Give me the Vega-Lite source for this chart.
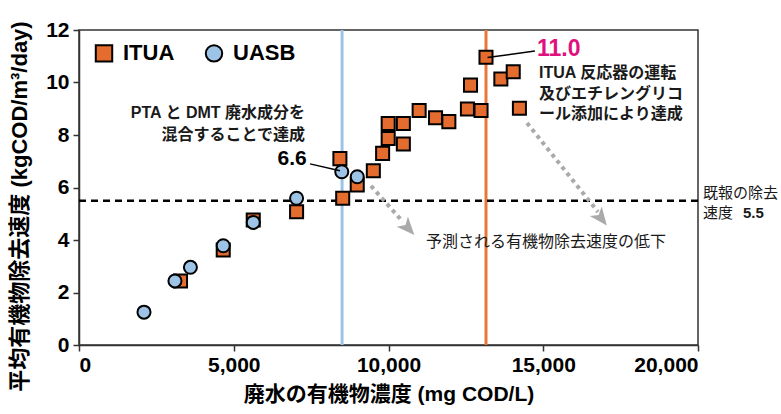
{
  "$schema": "https://vega.github.io/schema/vega-lite/v6.json",
  "autosize": "none",
  "width": 619,
  "height": 315,
  "padding": {"left": 79, "top": 30, "right": 83, "bottom": 69},
  "config": {
    "font": "Liberation Sans, Noto Sans CJK JP",
    "view": {"stroke": "#333333", "strokeWidth": 1.5},
    "axis": {
      "grid": false,
      "domainColor": "#333333",
      "domainWidth": 1.5,
      "tickColor": "#333333",
      "tickWidth": 1.5,
      "tickSize": 6,
      "labelColor": "#000000",
      "labelFont": "Liberation Sans, Noto Sans CJK JP",
      "labelFontWeight": "bold",
      "labelFontSize": 21,
      "titleColor": "#000000",
      "titleFont": "Liberation Sans, Noto Sans CJK JP",
      "titleFontWeight": "bold",
      "titleFontSize": 21
    }
  },
  "datasets": {
    "points": [
      {"series": "ITUA", "cod": 3280, "rate": 2.44},
      {"series": "ITUA", "cod": 4660, "rate": 3.62},
      {"series": "ITUA", "cod": 5630, "rate": 4.76},
      {"series": "ITUA", "cod": 7030, "rate": 5.08},
      {"series": "ITUA", "cod": 8430, "rate": 7.1},
      {"series": "ITUA", "cod": 8520, "rate": 5.59},
      {"series": "ITUA", "cod": 8990, "rate": 6.1},
      {"series": "ITUA", "cod": 9510, "rate": 6.64},
      {"series": "ITUA", "cod": 9810, "rate": 7.3},
      {"series": "ITUA", "cod": 9990, "rate": 7.87},
      {"series": "ITUA", "cod": 9990, "rate": 8.44},
      {"series": "ITUA", "cod": 10480, "rate": 8.44},
      {"series": "ITUA", "cod": 10480, "rate": 7.66},
      {"series": "ITUA", "cod": 10990, "rate": 8.93},
      {"series": "ITUA", "cod": 11520, "rate": 8.66},
      {"series": "ITUA", "cod": 11950, "rate": 8.51},
      {"series": "ITUA", "cod": 12550, "rate": 8.99},
      {"series": "ITUA", "cod": 12650, "rate": 9.9},
      {"series": "ITUA", "cod": 12990, "rate": 8.93},
      {"series": "ITUA", "cod": 13150, "rate": 10.96},
      {"series": "ITUA", "cod": 13630, "rate": 10.13},
      {"series": "ITUA", "cod": 14030, "rate": 10.41},
      {"series": "ITUA", "cod": 14230, "rate": 9.02},
      {"series": "UASB", "cod": 2100, "rate": 1.25},
      {"series": "UASB", "cod": 3100, "rate": 2.44},
      {"series": "UASB", "cod": 3600, "rate": 2.96},
      {"series": "UASB", "cod": 4660, "rate": 3.78},
      {"series": "UASB", "cod": 5630, "rate": 4.67},
      {"series": "UASB", "cod": 7030, "rate": 5.59},
      {"series": "UASB", "cod": 8490, "rate": 6.6},
      {"series": "UASB", "cod": 8990, "rate": 6.41}
    ],
    "vlines": [
      {"cod": 8500, "color": "blue"},
      {"cod": 13150, "color": "orange"}
    ],
    "arrows": [
      {"x": 9434, "y": 6.06, "x2": 10468, "y2": 4.69},
      {"x": 14475, "y": 8.46, "x2": 16769, "y2": 5.07}
    ],
    "heads": [
      {"x": 10630, "y": 4.46, "angle": 138},
      {"x": 16866, "y": 4.84, "angle": 142}
    ],
    "leaders": [
      {"x": 7464, "y": 6.9, "x2": 8433, "y2": 6.64},
      {"x": 13200, "y": 10.95, "x2": 14730, "y2": 11.2}
    ],
    "rightText": [
      {"x": 7302, "y": 8.83, "text": "PTA と DMT 廃水成分を"},
      {"x": 7302, "y": 8.0, "text": "混合することで達成"}
    ],
    "leftBold": [
      {"x": 14862, "y": 10.35, "text": "ITUA 反応器の運転"},
      {"x": 14862, "y": 9.56, "text": "及びエチレングリコ"},
      {"x": 14862, "y": 8.79, "text": "ール添加により達成"}
    ],
    "leftNormal": [
      {"x": 11212, "y": 3.92, "text": "予測される有機物除去速度の低下"}
    ],
    "sideNormal": [
      {"x": 20162, "y": 5.8, "text": "既報の除去"},
      {"x": 20162, "y": 5.04, "text": "速度"}
    ],
    "sideBold": [
      {"x": 21454, "y": 5.04, "text": "5.5"}
    ],
    "big": [
      {"x": 7357, "y": 7.07, "text": "6.6", "kind": "a"},
      {"x": 14798, "y": 11.28, "text": "11.0", "kind": "b"}
    ]
  },
  "layer": [
    {
      "data": {"name": "vlines"},
      "mark": {"type": "rule", "strokeWidth": 3},
      "encoding": {
        "x": {"field": "cod", "type": "quantitative", "title": "廃水の有機物濃度 (mg COD/L)",
          "scale": {"domain": [0, 20000], "nice": false},
          "axis": {"values": [0, 5000, 10000, 15000, 20000], "labelExpr": "format(datum.value, ',')", "titlePadding": 8, "labelPadding": 3}},
        "color": {"field": "color", "type": "nominal", "scale": {"domain": ["blue", "orange"], "range": ["#9dc3e6", "#e8773a"]}, "legend": null}
      }
    },
    {
      "data": {"values": [{"rate": 5.5}]},
      "mark": {"type": "rule", "color": "#000000", "strokeWidth": 2.5, "strokeDash": [7, 5]},
      "encoding": {
        "y": {"field": "rate", "type": "quantitative", "title": "平均有機物除去速度 (kgCOD/m³/day)",
          "scale": {"domain": [0, 12], "nice": false},
          "axis": {"values": [0, 2, 4, 6, 8, 10, 12], "titlePadding": 14, "labelPadding": 4, "titleFontSize": 22, "titleY": 176}}
      }
    },
    {
      "data": {"name": "arrows"},
      "mark": {"type": "rule", "color": "#aaaaaa", "strokeWidth": 4, "strokeDash": [4, 4]},
      "encoding": {
        "x": {"field": "x", "type": "quantitative"},
        "y": {"field": "y", "type": "quantitative"},
        "x2": {"field": "x2"},
        "y2": {"field": "y2"}
      }
    },
    {
      "data": {"name": "heads"},
      "mark": {"type": "point", "shape": "M0,-1L0.8,0.9L0,0.4L-0.8,0.9Z", "filled": true, "color": "#aaaaaa", "opacity": 1, "size": 360},
      "encoding": {
        "x": {"field": "x", "type": "quantitative"},
        "y": {"field": "y", "type": "quantitative"},
        "angle": {"field": "angle", "type": "quantitative", "scale": null}
      }
    },
    {
      "data": {"name": "points"},
      "mark": {"type": "point", "filled": true, "stroke": "#000000", "strokeWidth": 2, "opacity": 1, "size": 170},
      "encoding": {
        "x": {"field": "cod", "type": "quantitative"},
        "y": {"field": "rate", "type": "quantitative"},
        "fill": {"field": "series", "type": "nominal",
          "scale": {"domain": ["ITUA", "UASB"], "range": ["#e46c2e", "#9dc3e6"]},
          "legend": {"title": null, "orient": "none", "legendX": 14, "legendY": 12, "direction": "horizontal",
            "labelFontSize": 22, "labelFontWeight": "bold", "labelColor": "#000000", "labelFont": "Liberation Sans",
            "symbolSize": 270, "symbolStrokeColor": "#000000", "symbolStrokeWidth": 2, "symbolOpacity": 1,
            "columnPadding": 26, "labelOffset": 8, "padding": 0}},
        "shape": {"field": "series", "type": "nominal",
          "scale": {"domain": ["ITUA", "UASB"], "range": ["square", "circle"]}}
      }
    },
    {
      "data": {"name": "leaders"},
      "mark": {"type": "rule", "color": "#000000", "strokeWidth": 1.5},
      "encoding": {
        "x": {"field": "x", "type": "quantitative"},
        "y": {"field": "y", "type": "quantitative"},
        "x2": {"field": "x2"},
        "y2": {"field": "y2"}
      }
    },
    {
      "data": {"name": "rightText"},
      "mark": {"type": "text", "align": "right", "baseline": "middle", "fontSize": 16, "fontWeight": "bold", "color": "#1a1a1a"},
      "encoding": {
        "x": {"field": "x", "type": "quantitative"},
        "y": {"field": "y", "type": "quantitative"},
        "text": {"field": "text"}
      }
    },
    {
      "data": {"name": "leftBold"},
      "mark": {"type": "text", "align": "left", "baseline": "middle", "fontSize": 16, "fontWeight": "bold", "color": "#1a1a1a"},
      "encoding": {
        "x": {"field": "x", "type": "quantitative"},
        "y": {"field": "y", "type": "quantitative"},
        "text": {"field": "text"}
      }
    },
    {
      "data": {"name": "leftNormal"},
      "mark": {"type": "text", "align": "left", "baseline": "middle", "fontSize": 16, "fontWeight": "normal", "color": "#1a1a1a"},
      "encoding": {
        "x": {"field": "x", "type": "quantitative"},
        "y": {"field": "y", "type": "quantitative"},
        "text": {"field": "text"}
      }
    },
    {
      "data": {"name": "sideNormal"},
      "mark": {"type": "text", "align": "left", "baseline": "middle", "fontSize": 15, "fontWeight": "normal", "color": "#1a1a1a"},
      "encoding": {
        "x": {"field": "x", "type": "quantitative"},
        "y": {"field": "y", "type": "quantitative"},
        "text": {"field": "text"}
      }
    },
    {
      "data": {"name": "sideBold"},
      "mark": {"type": "text", "align": "left", "baseline": "middle", "fontSize": 15, "fontWeight": "bold", "color": "#1a1a1a"},
      "encoding": {
        "x": {"field": "x", "type": "quantitative"},
        "y": {"field": "y", "type": "quantitative"},
        "text": {"field": "text"}
      }
    },
    {
      "data": {"name": "big"},
      "transform": [{"filter": "datum.kind == 'a'"}],
      "mark": {"type": "text", "align": "right", "baseline": "middle", "fontSize": 21, "fontWeight": "bold", "color": "#000000"},
      "encoding": {
        "x": {"field": "x", "type": "quantitative"},
        "y": {"field": "y", "type": "quantitative"},
        "text": {"field": "text"}
      }
    },
    {
      "data": {"name": "big"},
      "transform": [{"filter": "datum.kind == 'b'"}],
      "mark": {"type": "text", "align": "left", "baseline": "middle", "fontSize": 23, "fontWeight": "bold", "color": "#e0117f"},
      "encoding": {
        "x": {"field": "x", "type": "quantitative"},
        "y": {"field": "y", "type": "quantitative"},
        "text": {"field": "text"}
      }
    }
  ],
  "resolve": {"scale": {"color": "independent"}}
}
